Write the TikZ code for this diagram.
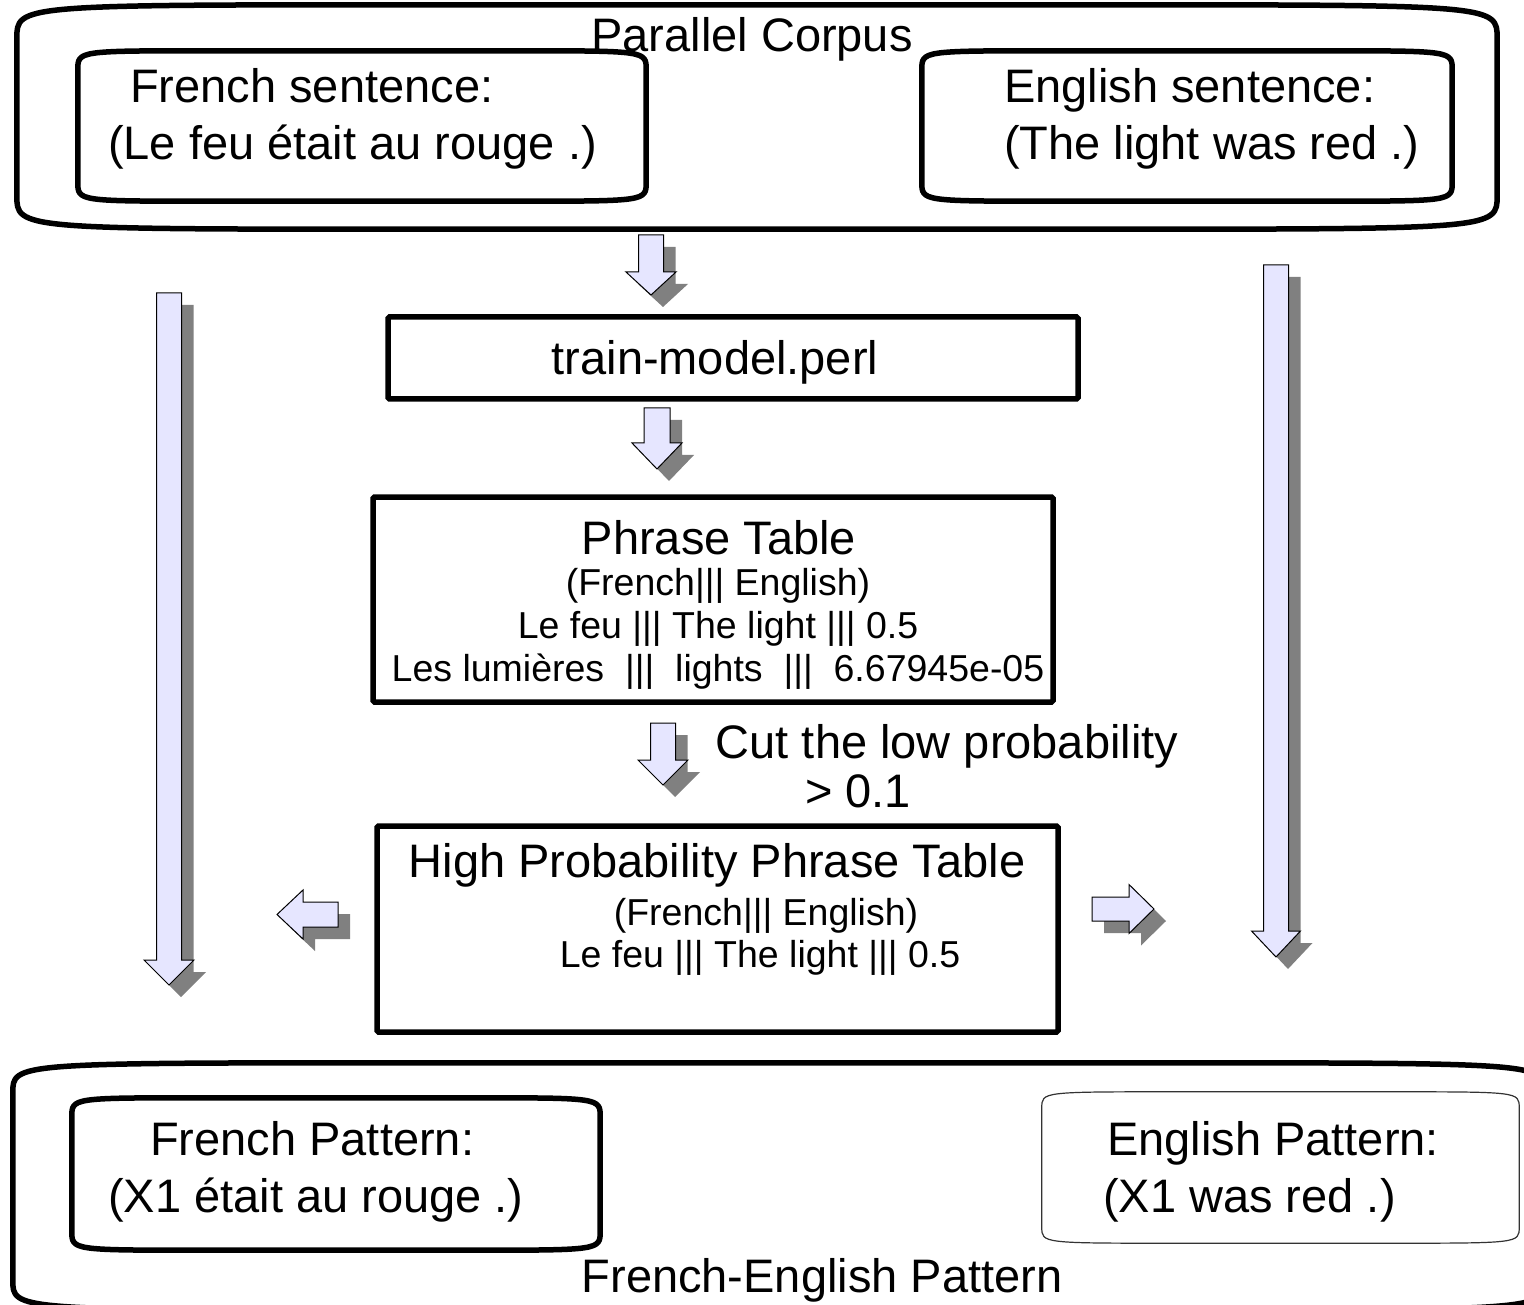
\documentclass[tikz,border=0pt]{standalone}
\usepackage{fontspec}
\usepackage{tikz}
\setmainfont{Liberation Sans}
\definecolor{arrowfill}{HTML}{E6E6FF}
\definecolor{arrowshade}{HTML}{808080}

% soft-cornered frame round a node: name, corner width, corner height, style
\newcommand\softframe[4]{%
  \draw[#4] ([yshift=-#3]#1.north west) .. controls (#1.north west) .. ([xshift=#2]#1.north west)
    -- ([xshift=-#2]#1.north east) .. controls (#1.north east) .. ([yshift=-#3]#1.north east)
    -- ([yshift=#3]#1.south east) .. controls (#1.south east) .. ([xshift=-#2]#1.south east)
    -- ([xshift=#2]#1.south west) .. controls (#1.south west) .. ([yshift=#3]#1.south west) -- cycle;}

\begin{document}
\begin{tikzpicture}[x=1pt,y=-1pt,
  frame/.style={line width=5.5pt,line join=round},
  thin frame/.style={line width=1.2pt,draw=black!80,line join=round},
  hollow/.style={draw=none,inner sep=0pt},
  tablebox/.style={draw,line width=5.5pt,rounded corners=1.5pt,inner sep=0pt},
  big/.style={font=\fontsize{47}{57}\selectfont,inner sep=0pt},
  small/.style={font=\fontsize{37.5}{43}\selectfont,inner sep=0pt},
  arrowbody/.style={fill=arrowfill,draw=black,line width=1pt,line join=miter},
  arrowshadow/.style={fill=arrowshade},
  pics/blockarrow/.style n args={4}{code={%
    \path[pic actions] (0,-#2) -- (#1-#4,-#2) -- (#1-#4,-#3) -- (#1,0)
      -- (#1-#4,#3) -- (#1-#4,#2) -- (0,#2) -- cycle;}}]
\useasboundingbox (0,0) rectangle (1524,1305);
\clip (0,0) rectangle (1524,1305);

% Parallel corpus
\node[hollow,minimum width=1480pt,minimum height=224pt] (corpus) at (757,117) {};
\softframe{corpus}{400pt}{34pt}{frame}
\node[hollow,minimum width=568pt,minimum height=150pt] (frsent) at (362,126) {};
\softframe{frsent}{130pt}{19pt}{frame}
\node[hollow,minimum width=530pt,minimum height=150pt] (ensent) at (1187,126) {};
\softframe{ensent}{130pt}{19pt}{frame}
\node[big,anchor=base] (corpuslbl) at (752,52) {Parallel Corpus};
\node[big,anchor=base west,align=left] (frtext) at (108,160) {\hspace{22pt}French sentence:\\(Le feu était au rouge .)};
\node[big,anchor=base west,align=left] (entext) at (1004,160) {English sentence:\\(The light was red .)};

% Training and phrase tables
\node[tablebox,minimum width=690pt,minimum height=82pt] (train) at (733,358) {};
\node[big,anchor=base] (trainlbl) at (715,375) {train-model.perl};
\node[tablebox,minimum width=680pt,minimum height=205pt] (phrase) at (713,599.5) {};
\node[big,anchor=base] (phraselbl) at (719,554) {Phrase Table};
\node[small,anchor=base,align=center] (phraserows) at (718,681) {(French|||~English)\\Le feu ||| The light ||| 0.5\\Les lumières~~|||~~lights~~|||~~6.67945e-05};
\node[big,anchor=base] (cutlbl) at (947,758) {Cut the low probability};
\node[big,anchor=base] (cutval) at (858,807) {\textgreater{} 0.1};
\node[tablebox,minimum width=681pt,minimum height=206pt] (high) at (717.5,929) {};
\node[big,anchor=base] (highlbl) at (717,877) {High Probability Phrase Table};
\node[small,anchor=base] (highcols) at (766,925) {(French|||~English)};
\node[small,anchor=base] (highrow) at (760,967) {Le feu ||| The light ||| 0.5};

% Block arrows
\pic[arrowshadow,shift={(12,12)},rotate=-90] at (651,235) {blockarrow={60}{12.5}{25}{23}};
\pic[arrowbody,rotate=-90] at (651,235) {blockarrow={60}{12.5}{25}{23}};
\pic[arrowshadow,shift={(12,12)},rotate=-90] at (657,408) {blockarrow={61}{13}{25}{26}};
\pic[arrowbody,rotate=-90] at (657,408) {blockarrow={61}{13}{25}{26}};
\pic[arrowshadow,shift={(12,12)},rotate=-90] at (663,723) {blockarrow={62}{12.5}{25}{25}};
\pic[arrowbody,rotate=-90] at (663,723) {blockarrow={62}{12.5}{25}{25}};
\pic[arrowshadow,shift={(12,12)},rotate=-90] at (169,293) {blockarrow={692}{12.5}{25}{25}};
\pic[arrowbody,rotate=-90] at (169,293) {blockarrow={692}{12.5}{25}{25}};
\pic[arrowshadow,shift={(12,12)},rotate=-90] at (1276,265) {blockarrow={692}{12.5}{24.5}{26}};
\pic[arrowbody,rotate=-90] at (1276,265) {blockarrow={692}{12.5}{24.5}{26}};
\pic[arrowshadow,shift={(12,12)},rotate=180] at (338,914.5) {blockarrow={61}{12.5}{24.5}{26}};
\pic[arrowbody,rotate=180] at (338,914.5) {blockarrow={61}{12.5}{24.5}{26}};
\pic[arrowshadow,shift={(12,12)}] at (1092,909) {blockarrow={62}{12}{24.5}{25}};
\pic[arrowbody] at (1092,909) {blockarrow={62}{12}{24.5}{25}};

% French-English pattern
\node[hollow,minimum width=1531pt,minimum height=247pt] (patterns) at (778.5,1186.5) {};
\softframe{patterns}{400pt}{30pt}{frame}
\node[hollow,minimum width=528pt,minimum height=152pt] (frpat) at (336,1174) {};
\softframe{frpat}{130pt}{19pt}{frame}
\node[hollow,minimum width=477pt,minimum height=151pt] (enpat) at (1280.5,1167.5) {};
\softframe{enpat}{130pt}{16pt}{thin frame}
\node[big,anchor=base west,align=left] (frpattxt) at (108,1212) {\hspace{42pt}French Pattern:\\(X1 était au rouge .)};
\node[big,anchor=base west,align=left] (enpattxt) at (1103,1212) {\hspace{4pt}English Pattern:\\(X1 was red .)};
\node[big,anchor=base] (patternslbl) at (822,1292) {French-English Pattern};

\end{tikzpicture}
\end{document}
